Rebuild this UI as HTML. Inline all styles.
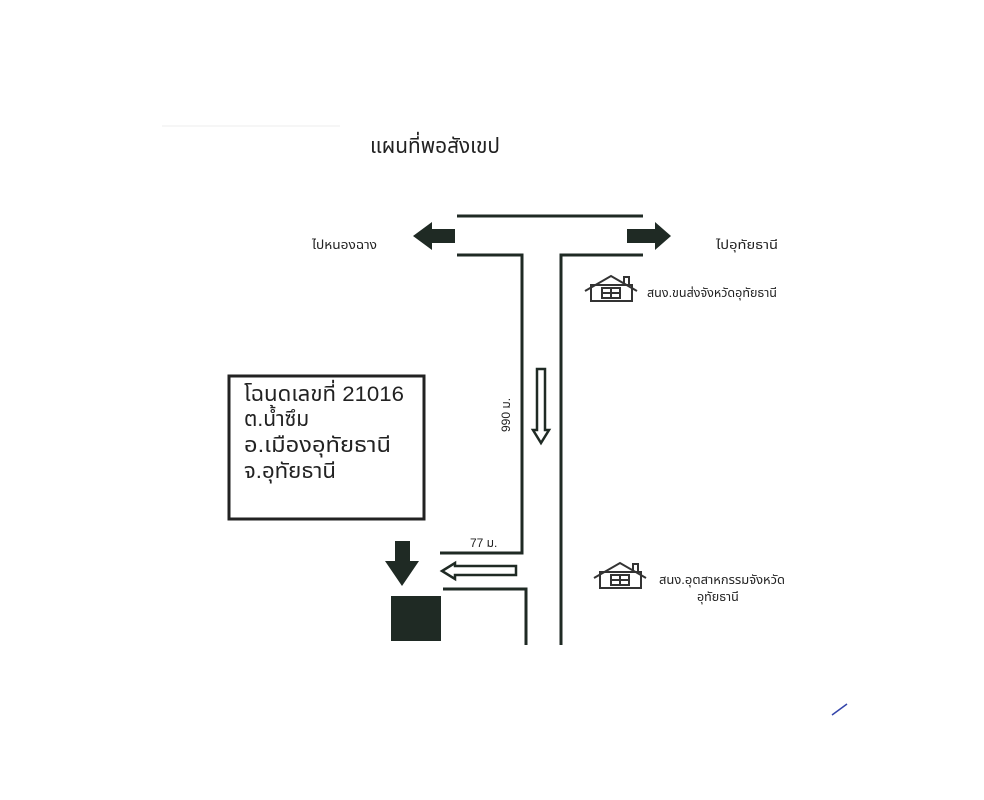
<!DOCTYPE html>
<html><head><meta charset="utf-8"><style>
html,body{margin:0;padding:0;background:#fff;}
svg{display:block;}
text{font-family:"Liberation Sans","Noto Sans Thai","Garuda","Loma",sans-serif;fill:#222;}
</style></head><body>
<svg width="984" height="800" viewBox="0 0 984 800" xmlns="http://www.w3.org/2000/svg">
<rect width="984" height="800" fill="#fff"/>
<line x1="162" y1="126" x2="340" y2="126" stroke="#eee" stroke-width="1"/>
<text x="370" y="153" font-size="21" textLength="130" lengthAdjust="spacingAndGlyphs">แผนที่พอสังเขป</text>
<g stroke="#1f2a24" stroke-width="3" fill="none">
<line x1="457" y1="216" x2="643" y2="216"/>
<polyline points="457,255 522,255 522,553 440,553"/>
<polyline points="643,255 561,255 561,645"/>
<polyline points="443,589 526,589 526,645"/>
</g>
<g fill="#1f2a24">
<polygon points="455,229 432,229 432,222 413,236 432,250 432,243 455,243"/>
<polygon points="627,229 655,229 655,222 671,236 655,250 655,243 627,243"/>
<polygon points="395,541 410,541 410,561 419,561 402,586 385,561 395,561"/>
<rect x="391" y="596" width="50" height="45"/>
</g>
<g stroke="#1f2a24" stroke-width="2.5" fill="#fff">
<polygon points="537,369 545,369 545,430 549,430 541,443 533,430 537,430"/>
<polygon points="516,566 516,575 455,575 455,579 442,571 455,563 455,566"/>
</g>
<text x="0" y="0" font-size="12" transform="translate(510,432) rotate(-90)">990 ม.</text>
<text x="470" y="547" font-size="12">77 ม.</text>
<rect x="229" y="376" width="195" height="143" fill="#fff" stroke="#222" stroke-width="3"/>
<text x="244" y="401" font-size="21" textLength="160" lengthAdjust="spacingAndGlyphs">โฉนดเลขที่ 21016</text>
<text x="244" y="426" font-size="21">ต.น้ำซึม</text>
<text x="244" y="452" font-size="21" textLength="147" lengthAdjust="spacingAndGlyphs">อ.เมืองอุทัยธานี</text>
<text x="244" y="478" font-size="21" textLength="92" lengthAdjust="spacingAndGlyphs">จ.อุทัยธานี</text>
<text x="312" y="249" font-size="12.5" textLength="65" lengthAdjust="spacingAndGlyphs">ไปหนองฉาง</text>
<text x="716" y="249" font-size="12.5" textLength="62" lengthAdjust="spacingAndGlyphs">ไปอุทัยธานี</text>
<g id="h" stroke="#333" stroke-width="2" fill="none">
<polyline points="585,291 611,276 637,291"/>
<polyline points="624,283 624,277 629,277 629,286"/>
<rect x="591" y="285" width="41" height="16"/>
<rect x="602" y="288" width="18" height="10"/>
<line x1="611" y1="288" x2="611" y2="298"/>
<line x1="602" y1="293" x2="620" y2="293"/>
</g>
<use href="#h" x="9" y="287"/>
<text x="647" y="297" font-size="12.5" textLength="130" lengthAdjust="spacingAndGlyphs">สนง.ขนส่งจังหวัดอุทัยธานี</text>
<text x="659" y="584" font-size="12.5" textLength="126" lengthAdjust="spacingAndGlyphs">สนง.อุตสาหกรรมจังหวัด</text>
<text x="697" y="601" font-size="12.5">อุทัยธานี</text>
<line x1="832" y1="715" x2="847" y2="704" stroke="#3344aa" stroke-width="1.5"/>
</svg>
</body></html>
